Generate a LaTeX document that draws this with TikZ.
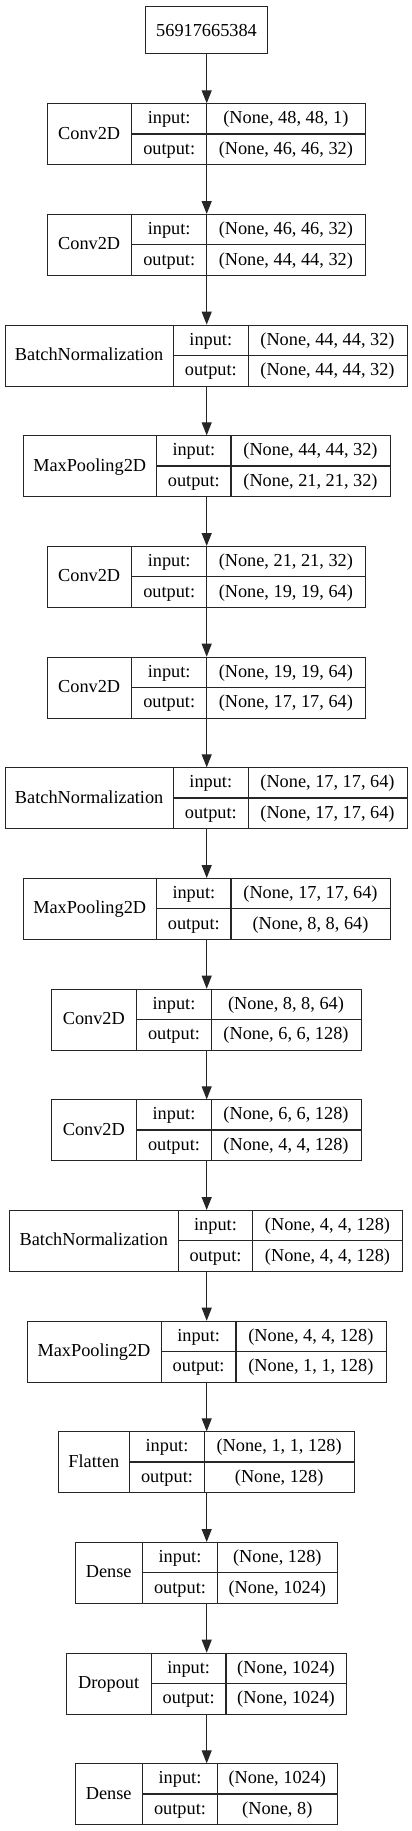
\documentclass[tikz,border=0pt]{standalone}
\usepackage{fontspec}
\setmainfont{Liberation Serif}
\usetikzlibrary{arrows.meta}
\newcommand\tfont{\fontsize{18.3}{20}\selectfont}
\newcommand\setx[4]{\def\xa{#1}\def\xb{#2}\def\xc{#3}\def\xd{#4}}
\tikzset{
  box/.style={draw=black!85, line width=1.1pt, rectangle, inner sep=0pt},
  divline/.style={draw=black!85, line width=1.1pt},
  txt/.style={inner sep=0pt, text height=13pt, text depth=2.5pt, font=\tfont},
  arr/.style={draw=black!85, line width=1.1pt, -{Triangle[length=13pt,width=10pt]}}
}
\newcommand\lyr[5]{%
  \node[box, anchor=north west, minimum width={\xd-\xa}, minimum height=61] (#1) at (\xa,#2) {};
  \draw[divline] ({\xb},{#2}) -- ({\xb},{#2+61});
  \draw[divline] ({\xc},{#2}) -- ({\xc},{#2+61});
  \draw[divline] ({\xb},{#2+30.7}) -- ({\xd},{#2+30.7});
  \node[txt] (#1-l) at ({(\xa+\xb)/2},{#2+30.5}) {#3};
  \node[txt] (#1-ik) at ({(\xb+\xc)/2},{#2+15.3}) {input:};
  \node[txt] (#1-ok) at ({(\xb+\xc)/2},{#2+45.8}) {output:};
  \node[txt] (#1-iv) at ({(\xc+\xd)/2},{#2+15.3}) {#4};
  \node[txt] (#1-ov) at ({(\xc+\xd)/2},{#2+45.8}) {#5};
}
\begin{document}
\begin{tikzpicture}[x=1pt,y=-1pt]
\useasboundingbox (0,0) rectangle (412,1831);
\coordinate (ax) at (206.7,0);
\node[box, anchor=north west, minimum width=122, minimum height=47.6, font=\tfont] (in) at (145,5.7) {56917665384};

\setx{46.7}{131.7}{206.7}{365}
\lyr{c1}{103.3}{Conv2D}{(None, 48, 48, 1)}{(None, 46, 46, 32)}
\lyr{c2}{214.0}{Conv2D}{(None, 46, 46, 32)}{(None, 44, 44, 32)}
\setx{5}{173.3}{248.3}{406.7}
\lyr{b1}{324.6}{BatchNormalization}{(None, 44, 44, 32)}{(None, 44, 44, 32)}
\setx{22.7}{156.7}{231}{390}
\lyr{m1}{435.3}{MaxPooling2D}{(None, 44, 44, 32)}{(None, 21, 21, 32)}
\setx{46.7}{131.7}{206.7}{365}
\lyr{c3}{546.0}{Conv2D}{(None, 21, 21, 32)}{(None, 19, 19, 64)}
\lyr{c4}{656.7}{Conv2D}{(None, 19, 19, 64)}{(None, 17, 17, 64)}
\setx{5}{173.3}{248.3}{406.7}
\lyr{b2}{767.3}{BatchNormalization}{(None, 17, 17, 64)}{(None, 17, 17, 64)}
\setx{22.7}{156.7}{231}{390}
\lyr{m2}{878.0}{MaxPooling2D}{(None, 17, 17, 64)}{(None, 8, 8, 64)}
\setx{51}{136.7}{211.3}{360.7}
\lyr{c5}{988.7}{Conv2D}{(None, 8, 8, 64)}{(None, 6, 6, 128)}
\lyr{c6}{1099.3}{Conv2D}{(None, 6, 6, 128)}{(None, 4, 4, 128)}
\setx{9.3}{178.3}{252.7}{402.3}
\lyr{b3}{1210.0}{BatchNormalization}{(None, 4, 4, 128)}{(None, 4, 4, 128)}
\setx{26.7}{161.3}{236}{385.7}
\lyr{m3}{1320.7}{MaxPooling2D}{(None, 4, 4, 128)}{(None, 1, 1, 128)}
\setx{58}{129.7}{204.3}{354}
\lyr{fl}{1431.3}{Flatten}{(None, 1, 1, 128)}{(None, 128)}
\setx{74.7}{142.7}{217.3}{337.3}
\lyr{d1}{1542.0}{Dense}{(None, 128)}{(None, 1024)}
\setx{66}{151.3}{226}{346}
\lyr{dr}{1652.7}{Dropout}{(None, 1024)}{(None, 1024)}
\setx{74.7}{142.7}{217.3}{337.3}
\lyr{d2}{1763.3}{Dense}{(None, 1024)}{(None, 8)}

\foreach \a/\b in {in/c1,c1/c2,c2/b1,b1/m1,m1/c3,c3/c4,c4/b2,b2/m2,m2/c5,c5/c6,c6/b3,b3/m3,m3/fl,fl/d1,d1/dr,dr/d2}
  \draw[arr] (\a.south -| ax) -- (\b.north -| ax);
\end{tikzpicture}
\end{document}
